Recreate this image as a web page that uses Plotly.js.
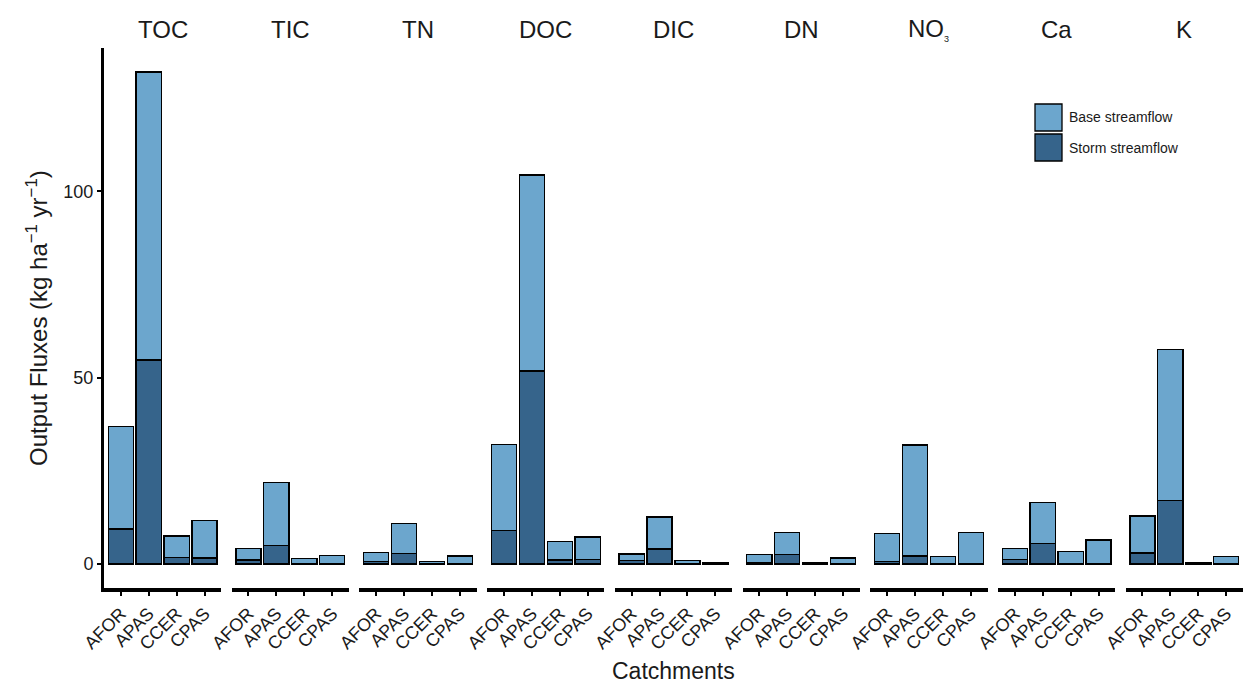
<!DOCTYPE html>
<html>
<head>
<meta charset="utf-8">
<script src="https://cdn.plot.ly/plotly-3.0.1.min.js"></script>
<style>html,body{margin:0;padding:0;background:#fff;}#chart{width:1243px;height:685px;}</style>
</head>
<body>
<div id="chart"></div>
<script>
// ---- data (kg ha-1 yr-1) ----
const catchments = ['AFOR', 'APAS', 'CCER', 'CPAS'];
const variables = ['TOC', 'TIC', 'TN', 'DOC', 'DIC', 'DN', 'NO3', 'Ca', 'K'];
const variableLabels = ['TOC', 'TIC', 'TN', 'DOC', 'DIC', 'DN',
  'NO<sub><span style="font-size:9px">3</span></sub>', 'Ca', 'K'];

const stormTOC = [9.4, 54.7, 1.8, 1.6];
const baseTOC  = [27.4, 77.3, 5.7, 10.0];
const stormTIC = [1.1, 5.0, 0.1, 0.1];
const baseTIC  = [3.1, 16.9, 1.4, 2.2];
const stormTN  = [0.6, 2.9, 0.2, 0.1];
const baseTN   = [2.4, 8.0, 0.5, 2.0];
const stormDOC = [8.9, 51.8, 1.1, 1.25];
const baseDOC  = [23.2, 52.6, 4.9, 5.95];
const stormDIC = [0.9, 4.0, 0.2, 0.1];
const baseDIC  = [1.8, 8.6, 0.7, 0.2];
const stormDN  = [0.45, 2.5, 0.1, 0.1];
const baseDN   = [2.15, 5.9, 0.15, 1.5];
const stormNO3 = [0.6, 2.1, 0.1, 0.2];
const baseNO3  = [7.6, 29.8, 1.95, 8.3];
const stormCa  = [1.25, 5.45, 0.1, 0.1];
const baseCa   = [2.85, 11.05, 3.3, 6.3];
const stormK   = [2.95, 17.1, 0.2, 0.1];
const baseK    = [9.95, 40.4, 0.15, 1.95];

const stormSeries = [stormTOC, stormTIC, stormTN, stormDOC, stormDIC, stormDN, stormNO3, stormCa, stormK];
const baseSeries  = [baseTOC, baseTIC, baseTN, baseDOC, baseDIC, baseDN, baseNO3, baseCa, baseK];

const yTicks = [0, 50, 100];

// ---- styling ----
const FONT = 'Liberation Sans, Arial, Helvetica, sans-serif';
const BASE_COLOR = '#6CA6CD';
const STORM_COLOR = '#36648B';
const TEXT = '#1a1a1a';

const W = 1243, H = 685;
const M = {l: 104, r: 0, t: 48, b: 97};
const plotW = W - M.l - M.r, plotH = H - M.t - M.b;
const pitch = 127.8 / 1139.8, panelW = 117.4 / 1139.8;

const traces = [];
const layout = {
  width: W, height: H,
  margin: M,
  paper_bgcolor: '#fff', plot_bgcolor: '#fff',
  barmode: 'stack',
  showlegend: false,
  font: {family: FONT, color: TEXT},
  yaxis: {
    domain: [0, 1], anchor: 'x',
    range: [-6.45, 138.45],
    tickvals: yTicks,
    showgrid: false, zeroline: false,
    showline: true, linecolor: '#000', linewidth: 3,
    ticks: 'outside', ticklen: 4, tickwidth: 2, tickcolor: '#000',
    tickfont: {size: 18, color: TEXT, family: FONT}
  },
  shapes: [], annotations: []
};

variables.forEach((v, i) => {
  const xa = i === 0 ? 'x' : 'x' + (i + 1);
  const key = i === 0 ? 'xaxis' : 'xaxis' + (i + 1);
  const d0 = i * pitch;
  layout[key] = {
    domain: [d0, Math.min(1, d0 + panelW)],
    anchor: 'y',
    type: 'category',
    categoryorder: 'array', categoryarray: catchments,
    range: [-0.6, 3.6],
    showgrid: false, zeroline: false,
    showline: true, linecolor: '#000', linewidth: 4,
    ticks: 'outside', ticklen: 4, tickwidth: 2, tickcolor: '#000',
    tickangle: -45,
    tickfont: {size: 18, color: TEXT, family: FONT}
  };
  traces.push({
    type: 'bar', name: 'Storm streamflow',
    x: catchments, y: stormSeries[i], xaxis: xa, yaxis: 'y',
    width: 0.9,
    marker: {color: STORM_COLOR, line: {color: '#000', width: 1.3}}
  });
  traces.push({
    type: 'bar', name: 'Base streamflow',
    x: catchments, y: baseSeries[i], xaxis: xa, yaxis: 'y',
    width: 0.9,
    marker: {color: BASE_COLOR, line: {color: '#000', width: 1.3}}
  });
  // facet strip title
  layout.annotations.push({
    text: variableLabels[i], xref: 'paper', yref: 'paper',
    x: d0 + panelW / 2, y: (plotH + 18) / plotH,
    xanchor: 'center', yanchor: 'middle', showarrow: false,
    font: {size: 24, color: TEXT, family: FONT}
  });
});

// axis titles
layout.annotations.push({
  text: 'Output Fluxes (kg ha<sup>−1</sup> yr<sup>−1</sup>)',
  xref: 'paper', yref: 'paper', x: (37 - M.l) / plotW, y: 0.5,
  xanchor: 'center', yanchor: 'middle', textangle: -90, showarrow: false,
  font: {size: 24, color: TEXT, family: FONT}
});
layout.annotations.push({
  text: 'Catchments',
  xref: 'paper', yref: 'paper', x: 4 * pitch + panelW / 2, y: (588 - 671) / plotH,
  xanchor: 'center', yanchor: 'middle', showarrow: false,
  font: {size: 23, color: TEXT, family: FONT}
});

// legend (manual, ggplot-style keys)
const px = x => (x - M.l) / plotW;
const py = y => (M.t + plotH - y) / plotH;
const legendItems = [['Base streamflow', BASE_COLOR], ['Storm streamflow', STORM_COLOR]];
legendItems.forEach(([label, col], k) => {
  const top = 104 + k * 30;
  layout.shapes.push({
    type: 'rect', xref: 'paper', yref: 'paper',
    x0: px(1035), x1: px(1062), y0: py(top + 27), y1: py(top),
    fillcolor: col, line: {color: '#000', width: 1.3}
  });
  layout.annotations.push({
    text: label, xref: 'paper', yref: 'paper',
    x: px(1067), y: py(top + 13.5), xanchor: 'left', yanchor: 'middle',
    showarrow: false, font: {size: 14, color: TEXT, family: FONT}
  });
});

Plotly.newPlot('chart', traces, layout, {staticPlot: true, displayModeBar: false});
</script>
</body>
</html>
